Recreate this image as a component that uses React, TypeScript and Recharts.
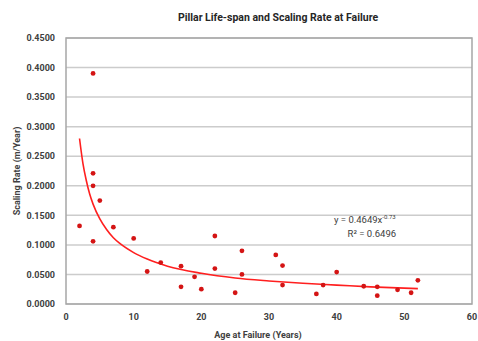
import React from 'react';
import { ComposedChart, Scatter, Line, XAxis, YAxis, CartesianGrid, ReferenceArea, ReferenceDot, Label } from 'recharts';

const title = 'Pillar Life-span and Scaling Rate at Failure';
const xLabel = 'Age at Failure (Years)';
const yLabel = 'Scaling Rate (m/Year)';

const ages = [2, 4, 4, 4, 4, 5, 7, 10, 12, 14, 17, 17, 19, 20, 22, 22, 25, 26, 26, 31, 32, 32, 37, 38, 40, 44, 46, 46, 49, 51, 52];
const rates = [0.132, 0.390, 0.221, 0.200, 0.106, 0.175, 0.130, 0.111, 0.055, 0.070, 0.064, 0.029, 0.046, 0.025, 0.115, 0.060, 0.019, 0.090, 0.050, 0.083, 0.065, 0.032, 0.017, 0.032, 0.054, 0.030, 0.029, 0.014, 0.024, 0.019, 0.040];

// trendline (power fit shown on chart)
const trendAges = [2, 2.5, 3, 3.5, 4, 5, 6, 7, 8, 10, 12, 15, 20, 25, 30, 35, 40, 45, 52];
const trendRates = [0.280, 0.238, 0.209, 0.186, 0.169, 0.144, 0.126, 0.112, 0.102, 0.087, 0.076, 0.064, 0.052, 0.044, 0.039, 0.035, 0.032, 0.029, 0.026];

const xTicks = [0, 10, 20, 30, 40, 50, 60];
const yTicks = [0, 0.05, 0.1, 0.15, 0.2, 0.25, 0.3, 0.35, 0.4, 0.45];

const eqText = 'y = 0.4649x';
const eqExp = '-0.73';
const r2Text = 'R² = 0.6496';

const points = ages.map((x, i) => ({ x, y: rates[i] }));
const trend = trendAges.map((x, i) => ({ x, y: trendRates[i] }));

const FONT = 'Roboto, "Open Sans", sans-serif';
const RED = '#d41414';

const Marker = (props: any) => {
  const { cx, cy } = props;
  if (cx == null || cy == null) return null;
  return <circle cx={cx} cy={cy} r={2.4} fill={RED} />;
};

const EqLabel = (props: any) => {
  const vb = props.viewBox || {};
  const x = vb.x + (vb.width || 0) / 2;
  const y = vb.y + (vb.height || 0) / 2;
  return (
    <g fontFamily={FONT} fontSize={9.5} fill="#404040">
      <text x={x - 7} y={y - 4} textAnchor="middle">
        {eqText}
        <tspan fontSize={6} dy={-4}>{eqExp}</tspan>
      </text>
      <text x={x} y={y + 10} textAnchor="middle">{r2Text}</text>
    </g>
  );
};

export default function App() {
  return (
    <div style={{ position: 'absolute', left: 0, top: 0, width: 478, height: 341, background: '#fff' }}>
      <div style={{ position: 'absolute', left: 0, width: 478, top: 10, textAlign: 'center', paddingLeft: 78, boxSizing: 'border-box', fontFamily: FONT, fontWeight: 700, fontSize: 10.5, color: '#262626', lineHeight: '16px' }}>
        {title}
      </div>
      <ComposedChart width={478} height={341} margin={{ top: 38, right: 6, bottom: 0, left: 0 }}>
        <CartesianGrid horizontal vertical={false} stroke="#cccccc" strokeWidth={1.5} />
        <XAxis
          dataKey="x"
          type="number"
          domain={[0, 60]}
          ticks={xTicks}
          height={37}
          tickLine={false}
          axisLine={false}
          tickMargin={4}
          tick={{ fontFamily: FONT, fontSize: 9, fontWeight: 700, fill: '#404040' }}
          interval={0}
        >
          <Label value={xLabel} position="insideBottom" offset={3} dx={-11} style={{ fontFamily: FONT, fontSize: 9, fontWeight: 700, fill: '#404040' }} />
        </XAxis>
        <YAxis
          type="number"
          domain={[0, 0.45]}
          ticks={yTicks}
          width={66}
          tickLine={false}
          axisLine={false}
          tickMargin={5}
          interval={0}
          tickFormatter={(v: number) => v.toFixed(4)}
          tick={{ fontFamily: FONT, fontSize: 9, fontWeight: 700, fill: '#404040' }}
        >
          <Label value={yLabel} angle={-90} position="insideLeft" offset={17} style={{ textAnchor: 'middle', fontFamily: FONT, fontSize: 9, fontWeight: 700, fill: '#404040' }} />
        </YAxis>
        <ReferenceArea x1={0} x2={60} y1={0} y2={0.45} fill="none" stroke="#a6a6a6" strokeWidth={1.5} ifOverflow="visible" />
        <Line data={trend} dataKey="y" type="monotone" stroke="#ff1f1f" strokeWidth={1.6} dot={false} isAnimationActive={false} />
        <Scatter data={points} dataKey="y" shape={Marker} isAnimationActive={false} />
        <ReferenceDot x={45.2} y={0.13} r={0} stroke="none" fill="none" label={<EqLabel />} ifOverflow="visible" />
      </ComposedChart>
    </div>
  );
}
